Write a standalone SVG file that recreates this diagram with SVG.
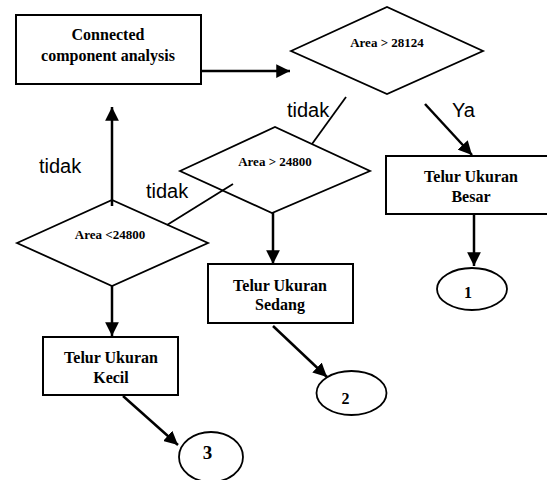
<svg xmlns="http://www.w3.org/2000/svg" width="547" height="480" viewBox="0 0 547 480">
<defs>
<style>
.box{fill:#fff;stroke:#000;stroke-width:2}
.dia{fill:none;stroke:#000;stroke-width:1.8}
.ell{fill:#fff;stroke:#000;stroke-width:1.8}
.t{font-family:"Liberation Serif","Times New Roman",serif;font-weight:bold;font-size:16px;text-anchor:middle;fill:#000}
.td{font-family:"Liberation Serif","Times New Roman",serif;font-weight:bold;font-size:13px;text-anchor:middle;fill:#000}
.tn{font-family:"Liberation Serif","Times New Roman",serif;font-weight:bold;font-size:16px;text-anchor:middle;fill:#000}
.lbl{font-family:"Liberation Sans",Arial,sans-serif;font-size:20px;fill:#000}
.c{stroke:#000;stroke-width:2.5;fill:none}
.cl{stroke:#000;stroke-width:1.8;fill:none}
</style>
<marker id="ah" viewBox="0 0 10 10" refX="10" refY="5" markerWidth="5.5" markerHeight="5.5" markerUnits="strokeWidth" orient="auto">
<path d="M0,0 L10,5 L0,10 z" fill="#000"/>
</marker>
</defs>
<g id="connectors">
<line class="c" x1="201" y1="71" x2="290" y2="71" marker-end="url(#ah)"/>
<line class="cl" x1="346" y1="97" x2="312" y2="144"/>
<line class="c" x1="425" y1="104" x2="472" y2="155" marker-end="url(#ah)"/>
<line class="c" x1="474" y1="214" x2="474" y2="266" marker-end="url(#ah)"/>
<line class="c" x1="273" y1="213" x2="273" y2="264" marker-end="url(#ah)"/>
<line class="c" x1="273" y1="326" x2="327" y2="377" marker-end="url(#ah)"/>
<line class="cl" x1="167" y1="225" x2="233" y2="184"/>
<line class="c" x1="112" y1="206" x2="112" y2="107" marker-end="url(#ah)"/>
<line class="c" x1="112" y1="286" x2="112" y2="336" marker-end="url(#ah)"/>
<line class="c" x1="123" y1="396" x2="178" y2="445" marker-end="url(#ah)"/>
<text class="lbl" x="287" y="117">tidak</text>
<text class="lbl" x="452" y="117">Ya</text>
<text class="lbl" x="146" y="198">tidak</text>
<text class="lbl" x="39" y="173">tidak</text>
</g>
<g id="node-cca">
<rect class="box" x="16" y="15" width="185" height="69"/>
<text class="t" x="108" y="40">Connected</text>
<text class="t" x="108" y="61">component analysis</text>
</g>
<g id="node-d1">
<polygon class="dia" points="291,51 387,7 483,51 387,94"/>
<text class="td" x="387" y="47">Area &gt; 28124</text>
</g>
<g id="node-d2">
<polygon class="dia" points="180,171 275,127 370,171 272,213"/>
<text class="td" x="275" y="166">Area &gt; 24800</text>
</g>
<g id="node-d3">
<polygon class="dia" points="17,243 112,200 208,243 112,286"/>
<text class="td" x="110" y="239">Area &lt;24800</text>
</g>
<g id="node-besar">
<rect class="box" x="386" y="156" width="162" height="58"/>
<text class="t" x="471" y="182">Telur Ukuran</text>
<text class="t" x="471" y="202">Besar</text>
</g>
<g id="node-sedang">
<rect class="box" x="208" y="264" width="145" height="59"/>
<text class="t" x="280" y="291">Telur Ukuran</text>
<text class="t" x="280" y="310">Sedang</text>
</g>
<g id="node-kecil">
<rect class="box" x="43" y="337" width="135" height="58"/>
<text class="t" x="111" y="363">Telur Ukuran</text>
<text class="t" x="111" y="383">Kecil</text>
</g>
<g id="node-1">
<ellipse class="ell" cx="472" cy="289" rx="35" ry="21"/>
<text class="tn" x="468" y="298">1</text>
</g>
<g id="node-2">
<ellipse class="ell" cx="351.5" cy="393" rx="35" ry="22"/>
<text class="tn" x="345.5" y="404">2</text>
</g>
<g id="node-3">
<ellipse class="ell" cx="211" cy="457" rx="32" ry="25"/>
<text class="tn" x="207.5" y="459" style="font-size:19px">3</text>
</g>
</svg>
